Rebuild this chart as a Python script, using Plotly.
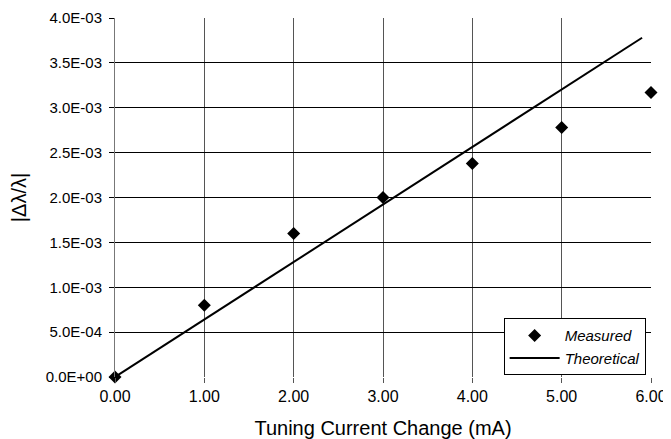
import plotly.graph_objects as go

current_ma = [0, 1, 2, 3, 4, 5, 6]
measured = [0.0, 8.0e-4, 1.6e-3, 2.0e-3, 2.38e-3, 2.78e-3, 3.17e-3]

theory_x = [0, 5.9]
theory_y = [0.0, 3.78e-3]

x_ticks = [0, 1, 2, 3, 4, 5, 6]
x_ticktext = ["0.00", "1.00", "2.00", "3.00", "4.00", "5.00", "6.00"]
y_ticks = [0, 5e-4, 1e-3, 1.5e-3, 2e-3, 2.5e-3, 3e-3, 3.5e-3, 4e-3]
y_ticktext = ["0.0E+00", "5.0E-04", "1.0E-03", "1.5E-03", "2.0E-03",
              "2.5E-03", "3.0E-03", "3.5E-03", "4.0E-03"]

font = "Liberation Sans, Arial, sans-serif"

fig = go.Figure()
fig.add_trace(go.Scatter(
    x=current_ma, y=measured, mode="markers", name="<i>Measured</i>",
    marker=dict(symbol="diamond", size=10, color="black"),
    cliponaxis=False,
))
fig.add_trace(go.Scatter(
    x=theory_x, y=theory_y, mode="lines", name="<i>Theoretical</i>",
    line=dict(color="black", width=2),
    cliponaxis=False,
))

# page body has an 8px default margin, so the figure is offset by (8, 8)
fig.update_layout(
    width=663, height=431,
    margin=dict(l=107, r=20, t=10, b=62, autoexpand=False),
    paper_bgcolor="white", plot_bgcolor="white",
    font=dict(family=font, size=14, color="black"),
    showlegend=True,
    legend=dict(
        x=0.99, xanchor="right", y=0.005, yanchor="bottom",
        bgcolor="white", bordercolor="black", borderwidth=1,
        font=dict(size=15, family=font),
        tracegroupgap=0, itemwidth=50,
    ),
    xaxis=dict(
        range=[0, 6], tickvals=x_ticks, ticktext=x_ticktext,
        showgrid=True, gridcolor="#555555", gridwidth=1,
        ticks="outside", ticklen=5, tickcolor="#555555",
        showline=False, zeroline=False, automargin=False,
        tickfont=dict(size=16),
        title=dict(text="Tuning Current Change (mA)", font=dict(size=20), standoff=16),
    ),
    yaxis=dict(
        range=[0, 4e-3], tickvals=y_ticks, ticktext=y_ticktext,
        showgrid=True, gridcolor="black", gridwidth=1,
        ticks="outside", ticklen=5, tickcolor="black",
        showline=True, linecolor="#777777", linewidth=1,
        zeroline=False, automargin=False,
        tickfont=dict(size=15), ticklabelstandoff=4,
        title=dict(text="|Δλ/λ|", font=dict(size=20), standoff=14),
    ),
)

fig.write_html("out.html")
